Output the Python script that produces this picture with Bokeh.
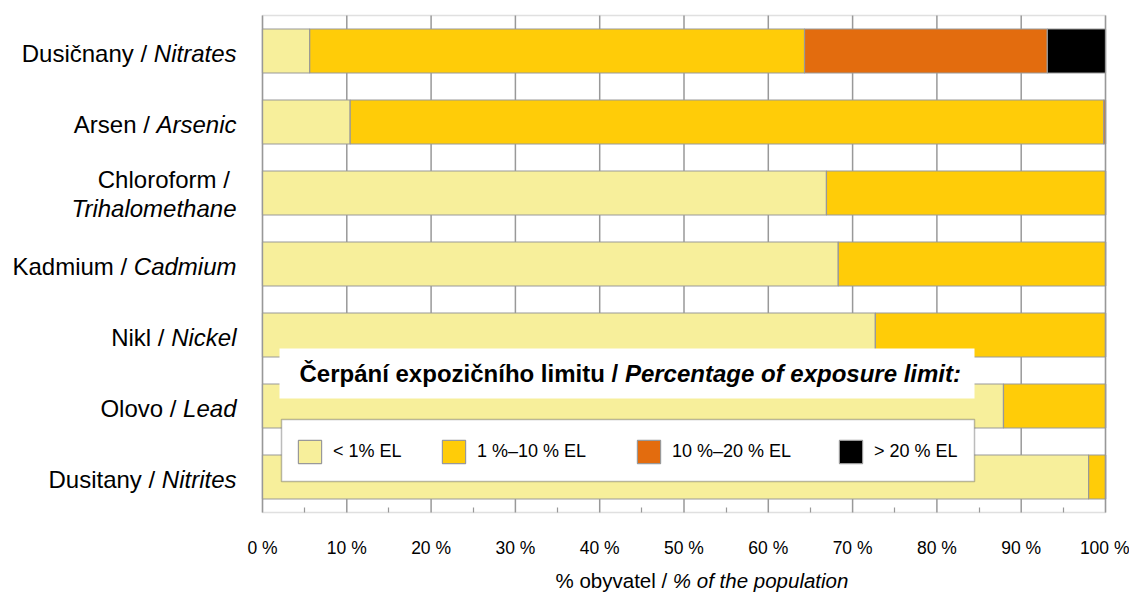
from bokeh.plotting import figure
from bokeh.models import (Label, Legend, LegendItem, BoxAnnotation, FixedTicker,
                          PrintfTickFormatter, Range1d, ColumnDataSource, LinearAxis)
from bokeh.embed import file_html
from bokeh.resources import INLINE

# ---------------- data ----------------
substances_cz = ["Dusičnany", "Arsen", "Chloroform", "Kadmium", "Nikl", "Olovo", "Dusitany"]
substances_en = ["Nitrates", "Arsenic", "Trihalomethane", "Cadmium", "Nickel", "Lead", "Nitrites"]
share_lt1 = [5.6, 10.4, 66.9, 68.3, 72.7, 87.9, 98.0]      # < 1 % EL
share_1_10 = [58.7, 89.4, 33.1, 31.7, 27.3, 12.1, 2.0]     # 1 %-10 % EL
share_10_20 = [28.8, 0.2, 0.0, 0.0, 0.0, 0.0, 0.0]         # 10 %-20 % EL
share_gt20 = [6.9, 0.0, 0.0, 0.0, 0.0, 0.0, 0.0]           # > 20 % EL
class_labels = ["< 1% EL", "1 %–10 % EL", "10 %–20 % EL", "> 20 % EL"]
x_ticks = [0, 10, 20, 30, 40, 50, 60, 70, 80, 90, 100]
legend_title_cz = "Čerpání expozičního limitu /"
legend_title_en = "Percentage of exposure limit:"
axis_title_cz = "% obyvatel /"
axis_title_en = "% of the population"

# ---------------- style ----------------
COLORS = ["#F7EF9B", "#FFCC08", "#E36C0E", "#000000"]
GRID = "#999999"
FONT = "Liberation Sans"
WRAPPED = {"Chloroform"}

# Arial / Helvetica advance widths (1/1000 em) used to align mixed upright/italic texts
W_REG = {' ': 278, '/': 278, '%': 889, 'A': 667, 'C': 722, 'D': 722, 'K': 667, 'L': 556,
         'N': 722, 'O': 778, 'T': 611, 'a': 556, 'b': 556, 'c': 500, 'd': 556, 'e': 556,
         'f': 278, 'h': 556, 'i': 222, 'k': 500, 'l': 222, 'm': 833, 'n': 556, 'o': 556,
         'p': 556, 'r': 333, 's': 500, 't': 278, 'u': 556, 'v': 500, 'y': 500, 'č': 500}
W_BOLD = {' ': 278, '/': 278, ':': 333, 'Č': 722, 'P': 667, 'a': 556, 'c': 556, 'e': 556,
          'f': 333, 'g': 611, 'h': 611, 'i': 278, 'l': 278, 'm': 889, 'n': 611, 'o': 611,
          'p': 611, 'r': 389, 's': 556, 't': 333, 'u': 611, 'x': 556, 'z': 500, 'á': 556,
          'í': 278, 'č': 556}


def text_w(s, size, table):
    return sum(table.get(ch, 556) for ch in s) * size / 1000.0


n = len(substances_cz)
ys = list(range(n - 1, -1, -1))
source = ColumnDataSource(dict(y=ys, c0=share_lt1, c1=share_1_10, c2=share_10_20, c3=share_gt20))

# ---------------- layout (canvas pixels) ----------------
CW, CH = 1129, 598                   # canvas
PL, PR, PT, PB = 262, 1105, 15, 512  # plotting area inside the canvas
XMIN, XMAX = 0.0, 100.0
YMIN, YMAX = -0.5, n - 0.5
sx = (PR - PL) / (XMAX - XMIN)
sy = (PB - PT) / (YMAX - YMIN)


def dx(px):
    return XMIN + (px - PL) / sx


def dy(py):
    return YMAX - (py - PT) / sy


p = figure(width=CW, height=CH,
           x_range=Range1d(dx(0), dx(CW)), y_range=Range1d(dy(CH), dy(0)),
           output_backend="svg", toolbar_location=None,
           x_axis_location=None, y_axis_location=None, min_border=0)
p.background_fill_color = "white"
p.border_fill_color = "white"
p.outline_line_color = None
p.grid.visible = False

# vertical grid lines across the plotting area
p.segment(x0=x_ticks, x1=x_ticks, y0=[YMIN] * len(x_ticks), y1=[YMAX] * len(x_ticks),
          line_color=GRID, line_width=1.5)

renderers = p.hbar_stack(["c0", "c1", "c2", "c3"], y="y", height=0.62, fill_color=COLORS,
                         line_color=GRID, line_width=1.2, source=source)

# plotting-area border
p.add_layout(BoxAnnotation(left=XMIN, right=XMAX, bottom=YMIN, top=YMAX, fill_alpha=0,
                           line_color=GRID, line_width=1.5))

# x axis at the bottom of the plotting area
minor = [t + 5 for t in x_ticks[:-1]]
ax = LinearAxis(fixed_location=YMIN, bounds=(XMIN, XMAX),
                ticker=FixedTicker(ticks=x_ticks, minor_ticks=minor),
                formatter=PrintfTickFormatter(format="%d %%"))
ax.axis_line_color = None
ax.major_tick_in = 0
ax.major_tick_out = 0
ax.minor_tick_in = 5
ax.minor_tick_out = 0
ax.minor_tick_line_color = GRID
ax.minor_tick_line_width = 1.2
ax.major_label_standoff = 25
ax.major_label_text_font = FONT
ax.major_label_text_font_size = "17.5px"
ax.major_label_text_color = "black"
p.add_layout(ax, "below")

# legend boxes
p.add_layout(BoxAnnotation(left=dx(279), right=dx(974), top=dy(348), bottom=dy(398),
                           fill_color="white", fill_alpha=1.0, line_color=None))
p.add_layout(BoxAnnotation(left=dx(281), right=dx(974), top=dy(419), bottom=dy(481),
                           fill_color="white", fill_alpha=1.0, line_color="#222222",
                           line_width=1.5))

swatch_left = [298, 442, 637, 839]
for r, lab, lx in zip(renderers, class_labels, swatch_left):
    lg = Legend(items=[LegendItem(label=lab, renderers=[r])], location=(lx - 3, CH - 466),
                orientation="horizontal", glyph_width=29, glyph_height=29, label_standoff=9,
                padding=0, margin=0, spacing=0, border_line_color=None,
                background_fill_alpha=0, label_text_font=FONT, label_text_font_size="18px",
                label_text_color="black")
    p.add_layout(lg)

# legend title (bold + bold italic)
TS = 24
ty = dy(373)
p.add_layout(Label(x=XMIN, y=ty, x_offset=37, text=legend_title_cz, text_font=FONT,
                   text_font_size=f"{TS}px", text_font_style="bold", text_align="left",
                   text_baseline="middle", text_color="black"))
p.add_layout(Label(x=XMIN, y=ty, x_offset=37 + text_w(legend_title_cz + " ", TS, W_BOLD),
                   text=legend_title_en, text_font=FONT, text_font_size=f"{TS}px",
                   text_font_style="bold italic", text_align="left", text_baseline="middle",
                   text_color="black"))

# category labels (upright Czech + italic English)
LS = 24
RIGHT = -26
sp = text_w(" ", LS, W_REG)
for yv, cz, en in zip(ys, substances_cz, substances_en):
    if cz in WRAPPED:
        p.add_layout(Label(x=XMIN, y=yv, x_offset=RIGHT - sp, y_offset=13.5, text=cz + " /",
                           text_font=FONT, text_font_size=f"{LS}px", text_align="right",
                           text_baseline="middle", text_color="black"))
        p.add_layout(Label(x=XMIN, y=yv, x_offset=RIGHT, y_offset=-15, text=en,
                           text_font=FONT, text_font_size=f"{LS}px", text_font_style="italic",
                           text_align="right", text_baseline="middle", text_color="black"))
    else:
        w_en = text_w(en, LS, W_REG)
        p.add_layout(Label(x=XMIN, y=yv, x_offset=RIGHT, y_offset=-2, text=en,
                           text_font=FONT, text_font_size=f"{LS}px", text_font_style="italic",
                           text_align="right", text_baseline="middle", text_color="black"))
        p.add_layout(Label(x=XMIN, y=yv, x_offset=RIGHT - w_en - sp, y_offset=-2,
                           text=cz + " /", text_font=FONT, text_font_size=f"{LS}px",
                           text_align="right", text_baseline="middle", text_color="black"))

# x axis title (upright + italic)
AS = 20.5
ax_x0 = 555 - PL
ay = dy(580)
p.add_layout(Label(x=XMIN, y=ay, x_offset=ax_x0, text=axis_title_cz,
                   text_font=FONT, text_font_size=f"{AS}px", text_align="left",
                   text_baseline="middle", text_color="black"))
p.add_layout(Label(x=XMIN, y=ay, x_offset=ax_x0 + text_w(axis_title_cz + " ", AS, W_REG),
                   text=axis_title_en, text_font=FONT, text_font_size=f"{AS}px",
                   text_font_style="italic", text_align="left", text_baseline="middle",
                   text_color="black"))

open("out.html", "w").write(file_html(p, INLINE))
